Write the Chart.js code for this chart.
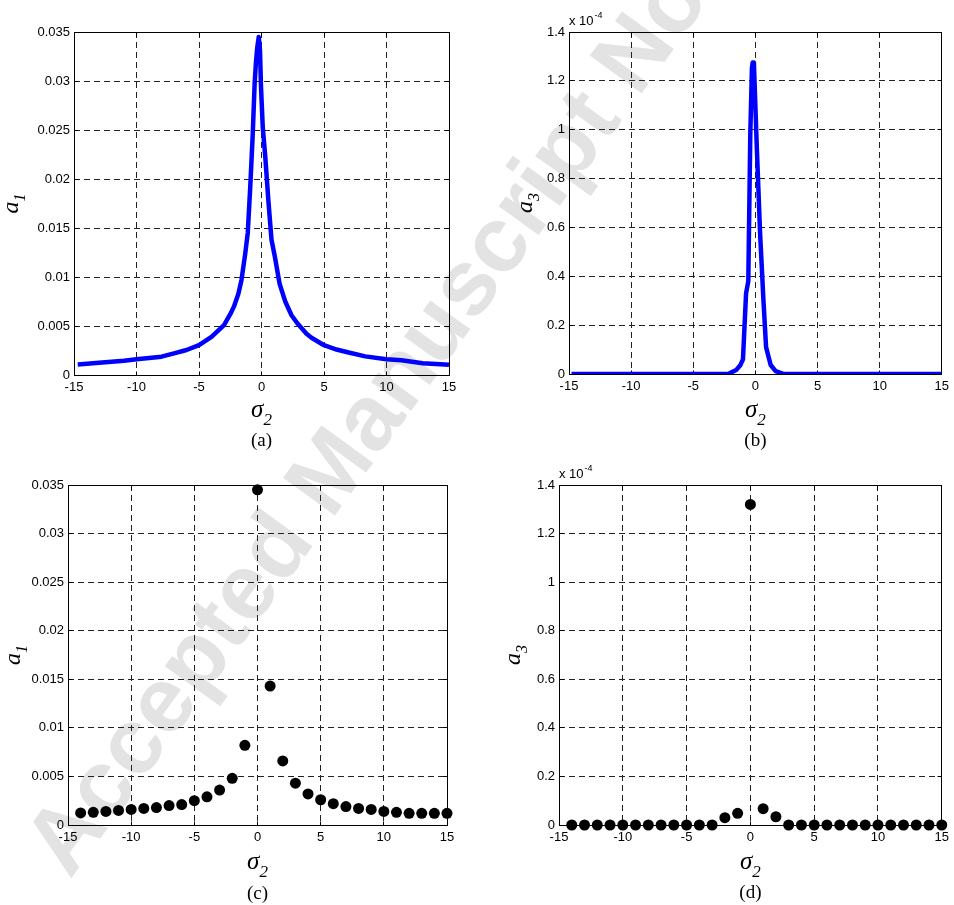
<!DOCTYPE html>
<html><head><meta charset="utf-8">
<script src="https://cdn.jsdelivr.net/npm/chart.js@4"></script>
<style>
html,body{margin:0;padding:0;background:#fff;width:954px;height:905px;overflow:hidden}
canvas{position:absolute}
</style></head><body>
<canvas id="wm" width="954" height="905" style="left:0;top:0"></canvas>
<canvas id="ca" width="477" height="452" style="left:0;top:0"></canvas>
<canvas id="cb" width="477" height="452" style="left:477px;top:0"></canvas>
<canvas id="cc" width="477" height="453" style="left:0;top:452px"></canvas>
<canvas id="cd" width="477" height="453" style="left:477px;top:452px"></canvas>
<script>
// ---- tick values and labels ----
const xTickVals = [-15, -10, -5, 0, 5, 10, 15];
const xTickLabels = ['-15', '-10', '-5', '0', '5', '10', '15'];
const a1TickVals = [0, 0.005, 0.01, 0.015, 0.02, 0.025, 0.03, 0.035];
const a1TickLabels = ['0', '0.005', '0.01', '0.015', '0.02', '0.025', '0.03', '0.035'];
const a3TickVals = [0, 0.2, 0.4, 0.6, 0.8, 1, 1.2, 1.4];      // in units of 1e-4
const a3TickLabels = ['0', '0.2', '0.4', '0.6', '0.8', '1', '1.2', '1.4'];

// ---- (a) continuous a1 curve ----
const sigmaA = [-14.7, -13, -11, -10, -8, -7, -6, -5, -4, -3, -2.5, -2.2, -1.85, -1.6, -1.3, -1.1, -0.9, -0.7, -0.55, -0.45, -0.35, -0.22, -0.12, -0.04, 0.1, 0.3, 0.55, 0.8, 1.05, 1.45, 1.9, 2.4, 2.85, 3.6, 4, 5, 6, 6.8, 8.3, 10, 11.2, 12.9, 15];
const a1Curve = [0.00108, 0.00125, 0.00145, 0.0016, 0.00187, 0.0022, 0.00255, 0.00305, 0.0039, 0.0051, 0.0062, 0.007, 0.0083, 0.0097, 0.0124, 0.0145, 0.0192, 0.0246, 0.0297, 0.0318, 0.0333, 0.0345, 0.0331, 0.0294, 0.0253, 0.0223, 0.0178, 0.0138, 0.0122, 0.0093, 0.0075, 0.0061, 0.0053, 0.0042, 0.0038, 0.00304, 0.0026, 0.00235, 0.0019, 0.0016, 0.0015, 0.0012, 0.00105];

// ---- (b) continuous a3 curve (x 1e-4) ----
const sigmaB = [-14.8, -2.2, -1.55, -1.2, -1.0, -0.75, -0.57, -0.41, -0.28, -0.22, -0.12, 0.12, 0.38, 0.65, 0.86, 1.23, 1.63, 2.3, 15];
const a3Curve = [0, 0, 0.016, 0.037, 0.06, 0.33, 0.38, 0.98, 1.25, 1.275, 1.275, 0.92, 0.575, 0.30, 0.11, 0.037, 0.012, 0, 0];

// ---- (c),(d) discrete points ----
const sigmaPts = [-14, -13, -12, -11, -10, -9, -8, -7, -6, -5, -4, -3, -2, -1, 0, 1, 2, 3, 4, 5, 6, 7, 8, 9, 10, 11, 12, 13, 14, 15];
const a1Pts = [0.00124, 0.0013, 0.0014, 0.0015, 0.0016, 0.0017, 0.0018, 0.0020, 0.0021, 0.0025, 0.0029, 0.0036, 0.0048, 0.0082, 0.0345, 0.0143, 0.0066, 0.0043, 0.0032, 0.0026, 0.0022, 0.0019, 0.0017, 0.0016, 0.0014, 0.0013, 0.0012, 0.0012, 0.0012, 0.0012];
const a3Pts = [0, 0, 0, 0, 0, 0, 0, 0, 0, 0, 0, 0, 0.03, 0.048, 1.32, 0.067, 0.034, 0, 0, 0, 0, 0, 0, 0, 0, 0, 0, 0, 0, 0];

// ---- watermark ----
(function(){
  const c = document.getElementById('wm').getContext('2d');
  c.save();
  c.translate(70, 880);
  c.rotate(-54 * Math.PI / 180);
  c.font = 'bold 93px "Liberation Sans"';
  c.fillStyle = '#e3e3e3';
  c.textBaseline = 'alphabetic';
  c.fillText('Accepted Manuscript Not Copyedited', 0, 0);
  c.restore();
})();

const SANS = '"Liberation Sans", Arial, sans-serif';
const SERIF = '"Liberation Serif", "Times New Roman", serif';

function al(p) { return Math.round(p - 0.5) + 0.5; }

const boxPlugin = {
  id: 'box',
  beforeDatasetsDraw(chart) {
    const {ctx, scales: {x, y}} = chart;
    ctx.save();
    ctx.setLineDash([]);
    ctx.strokeStyle = '#000';
    ctx.lineWidth = 1;
    const L = al(x.getPixelForValue(x.min)), R = al(x.getPixelForValue(x.max));
    const T = al(y.getPixelForValue(y.max)), B = al(y.getPixelForValue(y.min));
    ctx.beginPath();
    x.ticks.forEach(t => {
      const px = al(x.getPixelForValue(t.value));
      ctx.moveTo(px, T); ctx.lineTo(px, T + 4);
      ctx.moveTo(px, B); ctx.lineTo(px, B - 4);
    });
    y.ticks.forEach(t => {
      const py = al(y.getPixelForValue(t.value));
      ctx.moveTo(L, py); ctx.lineTo(L + 4, py);
      ctx.moveTo(R, py); ctx.lineTo(R - 4, py);
    });
    ctx.stroke();
    ctx.strokeRect(L, T, R - L, B - T);
    ctx.restore();
  }
};

function labelPlugin(cfg) {
  return {
    id: 'labs',
    afterDraw(chart) {
      const ctx = chart.ctx, a = chart.chartArea;
      ctx.save();
      ctx.fillStyle = '#000';
      ctx.textBaseline = 'alphabetic';
      const cx = (a.left + a.right) / 2;
      // x label: sigma_2
      ctx.font = 'italic 25px ' + SERIF;
      const w1 = ctx.measureText('σ').width;
      ctx.font = 'italic 17px ' + SERIF;
      const w2 = ctx.measureText('2').width;
      const x0 = cx - (w1 + w2) / 2;
      ctx.textAlign = 'left';
      ctx.font = 'italic 25px ' + SERIF;
      ctx.fillText('σ', x0, cfg.sigY);
      ctx.font = 'italic 17px ' + SERIF;
      ctx.fillText('2', x0 + w1, cfg.sigY + 8);
      // caption
      ctx.font = '19px ' + SERIF;
      ctx.textAlign = 'center';
      ctx.fillText(cfg.cap, cx, cfg.capY);
      // exponent
      if (cfg.exp) {
        ctx.textAlign = 'left';
        ctx.font = '13px ' + SANS;
        ctx.fillText('x 10', a.left, a.top - 7);
        const we = ctx.measureText('x 10').width;
        ctx.font = '9px ' + SANS;
        ctx.fillText('-4', a.left + we + 1, a.top - 14);
      }
      // y label rotated
      ctx.translate(cfg.yLabX, (a.top + a.bottom) / 2);
      ctx.rotate(-Math.PI / 2);
      ctx.font = 'italic 24px ' + SERIF;
      const wa = ctx.measureText('a').width;
      ctx.font = 'italic 16px ' + SERIF;
      const ws = ctx.measureText(cfg.ysub).width;
      const y0 = -(wa + ws) / 2;
      ctx.textAlign = 'left';
      ctx.font = 'italic 24px ' + SERIF;
      ctx.fillText('a', y0, 0);
      ctx.font = 'italic 16px ' + SERIF;
      ctx.fillText(cfg.ysub, y0 + wa, 7);
      ctx.restore();
    }
  };
}

function makeChart(id, pad, yMax, yVals, yLabels, datasets, lab) {
  return new Chart(document.getElementById(id), {
    type: 'scatter',
    data: {datasets},
    options: {
      responsive: false,
      animation: false,
      events: [],
      devicePixelRatio: 1,
      layout: {padding: pad},
      plugins: {legend: {display: false}, tooltip: {enabled: false}},
      scales: {
        x: {
          type: 'linear', min: -15, max: 15,
          afterFit: s => { s.height = 20; },
          afterBuildTicks: s => { s.ticks = xTickVals.map(v => ({value: v})); },
          ticks: {callback: (v, i) => xTickLabels[i], font: {family: SANS, size: 13}, color: '#000', padding: 5, maxRotation: 0, autoSkip: false},
          grid: {color: '#222', lineWidth: 1, drawTicks: false},
          border: {display: false, dash: [6, 4]}
        },
        y: {
          type: 'linear', min: 0, max: yMax,
          afterFit: s => { s.width = 60; },
          afterBuildTicks: s => { s.ticks = yVals.map(v => ({value: v})); },
          ticks: {callback: (v, i) => yLabels[i], font: {family: SANS, size: 13}, color: '#000', padding: 4, autoSkip: false},
          grid: {color: '#222', lineWidth: 1, drawTicks: false},
          border: {display: false, dash: [6, 4]}
        }
      }
    },
    plugins: [boxPlugin, labelPlugin(lab)]
  });
}

const lineStyle = {showLine: true, borderColor: '#0000ff', backgroundColor: '#0000ff', borderWidth: 4.5, pointRadius: 0, borderJoinStyle: 'round', tension: 0};
const dotStyle = {showLine: false, backgroundColor: '#000', borderColor: '#000', borderWidth: 0, pointRadius: 5.5, clip: false};

makeChart('ca', {left: 14, top: 32, right: 28, bottom: 57}, 0.035, a1TickVals, a1TickLabels,
  [Object.assign({data: sigmaA.map((s, i) => ({x: s, y: a1Curve[i]}))}, lineStyle)],
  {sigY: 417, capY: 446, yLabX: 18, ysub: '1', cap: '(a)', exp: false});

makeChart('cb', {left: 32, top: 32, right: 7, bottom: 58}, 1.4, a3TickVals, a3TickLabels,
  [Object.assign({data: sigmaB.map((s, i) => ({x: s, y: a3Curve[i]}))}, lineStyle)],
  {sigY: 417, capY: 446, yLabX: 55, ysub: '3', cap: '(b)', exp: true});

makeChart('cc', {left: 8, top: 33, right: 30, bottom: 60}, 0.035, a1TickVals, a1TickLabels,
  [Object.assign({data: sigmaPts.map((s, i) => ({x: s, y: a1Pts[i]}))}, dotStyle)],
  {sigY: 417, capY: 447, yLabX: 20, ysub: '1', cap: '(c)', exp: false});

makeChart('cd', {left: 22, top: 33, right: 11, bottom: 60}, 1.4, a3TickVals, a3TickLabels,
  [Object.assign({data: sigmaPts.map((s, i) => ({x: s, y: a3Pts[i]}))}, dotStyle)],
  {sigY: 417, capY: 446, yLabX: 43, ysub: '3', cap: '(d)', exp: true});
</script>
</body></html>
